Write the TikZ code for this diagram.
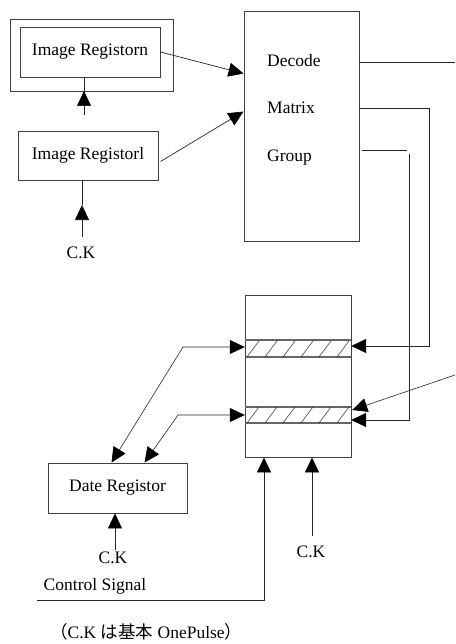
\documentclass[tikz,border=0pt]{standalone}
\usepackage{fontspec}
\setmainfont{Liberation Serif}
\newfontfamily\jpfont{Noto Sans CJK JP}
\usetikzlibrary{arrows.meta,positioning,calc}
\tikzset{
  regbox/.style = {shape=rectangle, draw=black!75, line width=0.9pt,
                   align=center, inner sep=0pt},
  txt/.style    = {font=\fontsize{17.5}{20}\selectfont, inner sep=0pt},
  wire/.style   = {draw=black!85, line width=0.7pt},
  band/.style   = {draw=black!60, line width=1.6pt}
}

\begin{document}
\begin{tikzpicture}[x=1pt,y=-1pt,>={Triangle[length=15pt,width=14pt,color=black]}]
\useasboundingbox (0,0) rectangle (455,644);
% image registers
\node [regbox, minimum width=163pt, minimum height=72pt] (regout) at (92.3,55) {};
\node [regbox, txt, minimum width=140pt, minimum height=50pt] (regn) at (90,52) {Image Registorn};
\node [regbox, txt, minimum width=140pt, minimum height=49pt] (regl) at (88,155.5) {Image Registorl};
\node [txt] (ck1) at (81,253) {C.K};
\coordinate (nbot) at (84,115);
\coordinate (nmid) at (84,91);
\draw [wire,->] (nbot) -- (nmid);
\draw [wire] (nmid) -- (regn.south -| nmid);
\coordinate (ck1top) at (82,237);
\coordinate (ck1tip) at (82,205);
\draw [wire,->] (ck1top) -- (ck1tip);
\draw [wire] (ck1tip) -- (regl.south -| ck1tip);
% decoder
\node [regbox, minimum width=115pt, minimum height=230pt] (dec) at (301.5,126) {};
\node [txt, anchor=base west] (decode) at (267,67) {Decode};
\node [txt, anchor=base west] (matrix) at (267,114) {Matrix};
\node [txt, anchor=base west] (group) at (267,162) {Group};
\draw [wire,->] (regn.east) -- ($(dec.north west)+(0,63)$);
\draw [wire,->] ($(regl.east)+(2,6)$) -- ($(dec.north west)+(0,101)$);
\coordinate (decR) at (455,62);
\draw [wire] (dec.east |- decR) -- (decR);
% buffer with two slots
\node [regbox, minimum width=106pt, minimum height=162pt] (buf) at (298,376) {};
\node [minimum width=106pt, minimum height=17pt, inner sep=0pt] (band1) at (298,348.5) {};
\node [minimum width=106pt, minimum height=16pt, inner sep=0pt] (band2) at (298,415) {};
\foreach \b in {band1,band2} {
  \draw [band] (\b.north west) -- (\b.north east);
  \draw [band] (\b.south west) -- (\b.south east);
  \foreach \i in {0,...,5}
    \draw [wire,line width=0.5pt] ($(\b.south west)+(2+18*\i,0)$) -- ++(12,-16);
}
\coordinate (mcol) at (429,346);
\draw [wire,->] (dec.east |- 0,108) -| (mcol) -- (band1.east |- mcol);
\coordinate (gA) at (362,150);
\coordinate (gB) at (407,150);
\coordinate (gC) at (409,154);
\coordinate (gD) at (409,420);
\draw [wire] (gA) -- (gB);
\draw [wire,->] (gC) -- (gD) -- (band2.east |- gD);
\coordinate (rin) at (455,375);
\draw [wire,line width=0.6pt,->] (rin) -- ($(band2.east)+(1,-5)$);
% data register
\node [regbox, txt, minimum width=139pt, minimum height=50pt] (dreg) at (117.5,488) {Date Registor};
\coordinate (lk1) at (183,347);
\coordinate (lk2) at (178,415);
\draw [wire,line width=0.6pt,<->] ($(dreg.north west)+(64,0)$) -- (lk1) -- (band1.west |- lk1);
\draw [wire,line width=0.6pt,<->] ($(dreg.north west)+(97,0)$) -- (lk2) -- (band2.west);
\node [txt] (ck2) at (113,558) {C.K};
\coordinate (ck2top) at (115,550);
\draw [wire,->] (ck2top) -- (dreg.south -| ck2top);
% control signal and clocks
\node [txt] (ctrl) at (95,586) {Control Signal};
\coordinate (cs0) at (37,600);
\coordinate (cs1) at (264,600);
\draw [wire,->] (cs0) -- (cs1) -- (buf.south -| cs1);
\node [txt] (ck3) at (311,552) {C.K};
\coordinate (ck3top) at (312,536);
\draw [wire,->] (ck3top) -- (buf.south -| ck3top);
% note
\node [txt, anchor=west] (note) at (50,632) {{\jpfont （}C.K {\jpfont は基本} OnePulse{\jpfont ）}};
\end{tikzpicture}
\end{document}
